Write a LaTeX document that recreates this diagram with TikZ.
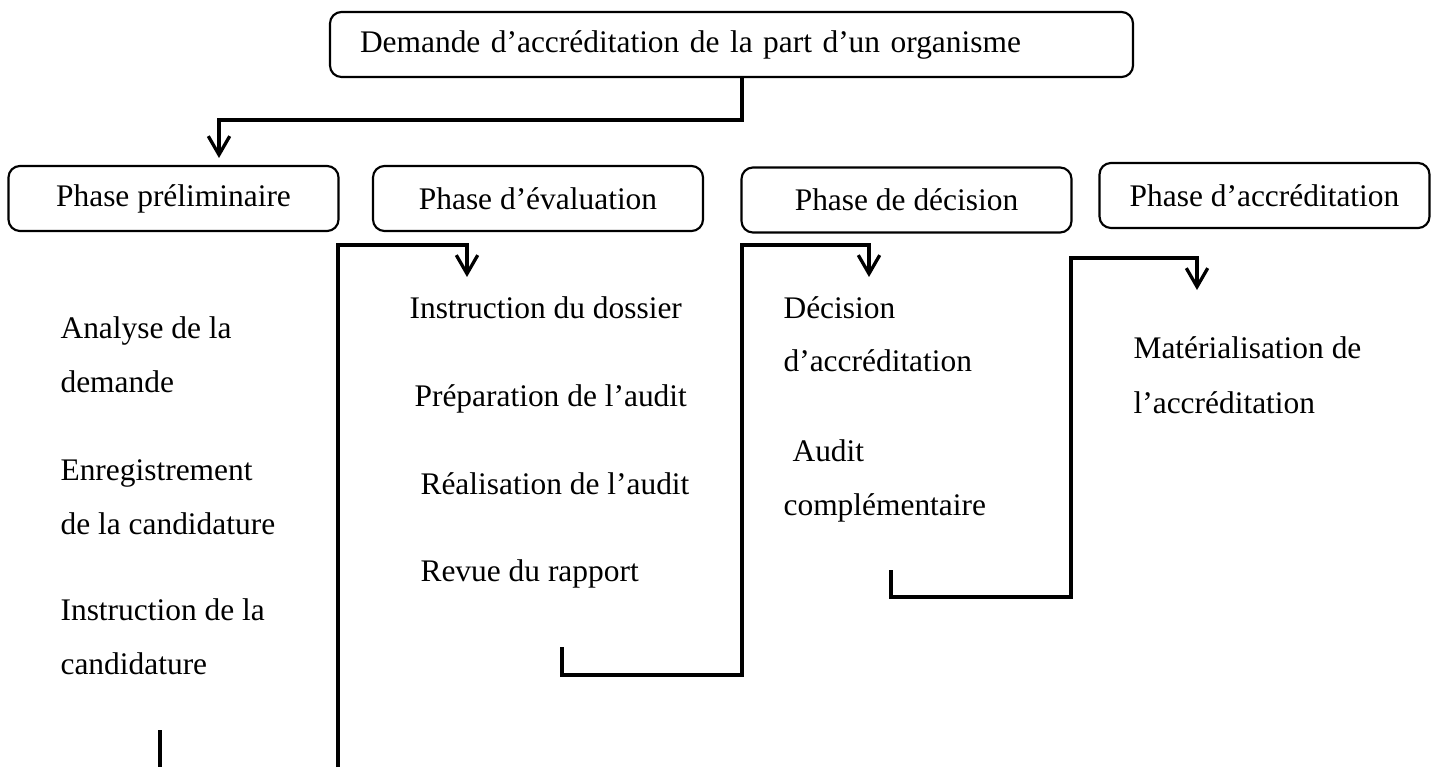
\documentclass[tikz,border=0pt]{standalone}
\usepackage{fontspec}
\setmainfont{Liberation Serif}
\usepackage{tikz}
\usetikzlibrary{arrows.meta}

\tikzset{
  phase/.style={draw,rounded corners=4pt,line width=0.75pt,minimum width=115.5pt,minimum height=22.75pt,inner sep=0pt,font=\fontsize{11}{13}\selectfont},
  item/.style={anchor=base west,inner sep=0pt,font=\fontsize{11}{13}\selectfont},
  link/.style={line width=1.15pt},
}

\begin{document}
\begin{tikzpicture}[x=0.35pt,y=-0.35pt,>={Straight Barb[length=6.5pt,width=7.5pt]}]
  \useasboundingbox (0,0) rectangle (1434,767);
  \node[phase,align=left,text width=260.05pt,inner xsep=10.5pt] (req) at (731.5,44.5) {Demande d’accréditation de la part d’un organisme};
  \node[phase] (pre) at (173.5,198.5) {Phase préliminaire};
  \node[phase] (eva) at (538,198.5) {Phase d’évaluation};
  \node[phase] (dec) at (906.5,200) {Phase de décision};
  \node[phase] (acc) at (1264.5,195.5) {Phase d’accréditation};
  % preliminaire
  \node[item] (pre1a) at (60,338) {Analyse de la};
  \node[item] (pre1b) at (60,392) {demande};
  \node[item] (pre2a) at (60,480) {Enregistrement};
  \node[item] (pre2b) at (60,534) {de la candidature};
  \node[item] (pre3a) at (60,620) {Instruction de la};
  \node[item] (pre3b) at (60,674) {candidature};
  % evaluation
  \node[item] (eva1) at (409,319) {Instruction du dossier};
  \node[item] (eva2) at (414,406) {Préparation de l’audit};
  \node[item] (eva3) at (420,494) {Réalisation de l’audit};
  \node[item] (eva4) at (420,581) {Revue du rapport};
  % decision
  \node[item] (dec1a) at (783,318) {Décision};
  \node[item] (dec1b) at (783,371) {d’accréditation};
  \node[item] (dec2a) at (792,461) {Audit};
  \node[item] (dec2b) at (783,515) {complémentaire};
  % accreditation
  \node[item] (acc1a) at (1133,358) {Matérialisation de};
  \node[item] (acc1b) at (1133,413) {l’accréditation};
  % connectors
  \coordinate (k1) at (742,120);
  \coordinate (a1) at (219,158);
  \coordinate (s0) at (160,730);
  \coordinate (s1) at (160,767);
  \coordinate (b0) at (338,767);
  \coordinate (k2) at (338,245);
  \coordinate (b1) at (467,277);
  \coordinate (c0) at (562,647);
  \coordinate (c1) at (742,675);
  \coordinate (c2) at (742,245);
  \coordinate (c3) at (869,277);
  \coordinate (d0) at (891,570);
  \coordinate (d1) at (1071,597);
  \coordinate (d2) at (1071,258);
  \coordinate (d3) at (1197,290);
  \draw[link,->] (req.south -| k1) -- (k1) -| (a1);
  \draw[link] (s0) -- (s1);
  \draw[link,->] (b0) -- (k2) -| (b1);
  \draw[link,->] (c0) |- (c1) -- (c2) -| (c3);
  \draw[link,->] (d0) |- (d1) -- (d2) -| (d3);
\end{tikzpicture}
\end{document}
